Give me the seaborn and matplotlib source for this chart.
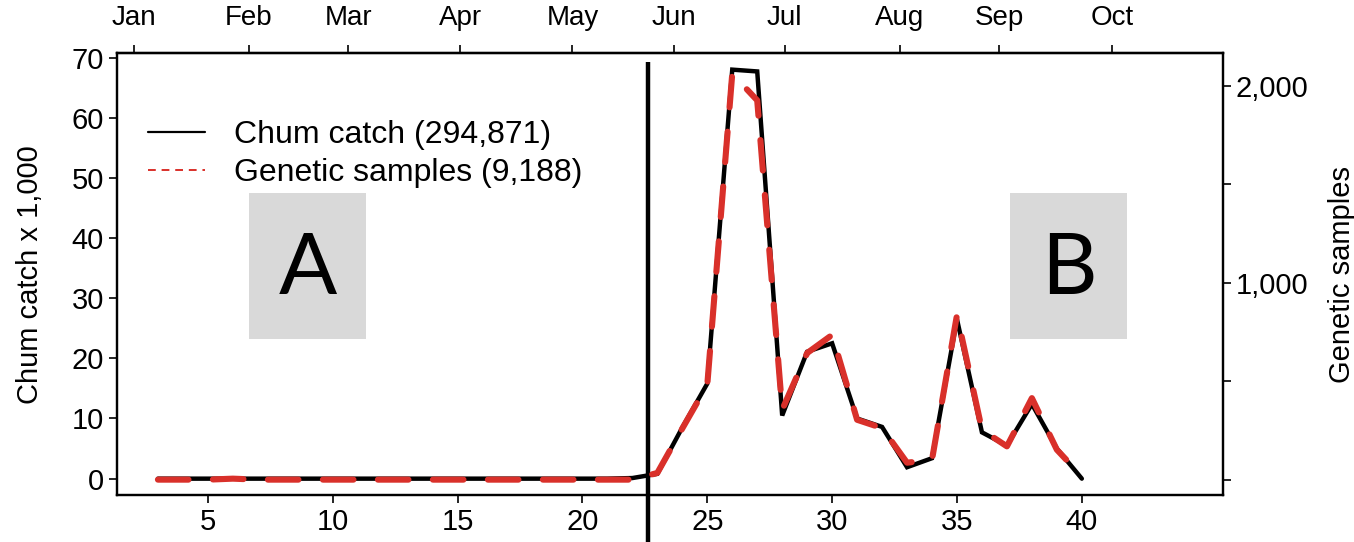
import matplotlib
matplotlib.use("Agg")
import matplotlib.pyplot as plt
from matplotlib.lines import Line2D
from matplotlib.patches import Rectangle
import seaborn as sns

# ------------------------------------------------------------
# Data
# ------------------------------------------------------------
weeks = list(range(3, 41))
chum_catch = [0, 0, 0, 0, 0, 0, 0, 0, 0, 0,
              0, 0, 0, 0, 0, 0, 0, 0, 0, 0.1,
              0.8, 8.5, 15.8, 68.0, 67.7, 10.5, 21.1, 22.5, 10.0, 8.6,
              1.9, 3.4, 26.5, 7.7, 5.5, 12.4, 5.0, 0.0]
genetic = [0, 0, 0, 5, 0, 0, 0, 0, 0, 0,
           0, 0, 0, 0, 0, 0, 0, 0, 0, 0,
           34, 260, 481, 2061, 1926, 355, 643, 735, 304, 262,
           86, 101, 836, 253, 169, 414, 152, 17]

month_labels = ["Jan", "Feb", "Mar", "Apr", "May", "Jun", "Jul", "Aug", "Sep", "Oct"]
month_weeks = [2.05, 6.63, 10.63, 15.1, 19.6, 23.65, 28.1, 32.7, 36.7, 41.2]

split_week = 22.63
legend_labels = ["Chum catch (294,871)", "Genetic samples (9,188)"]

# ------------------------------------------------------------
# Style
# ------------------------------------------------------------
sns.set_style("ticks")
plt.rcParams['font.family'] = ['Liberation Sans', 'DejaVu Sans']
plt.rcParams['text.color'] = 'black'
plt.rcParams['axes.labelcolor'] = 'black'
plt.rcParams['xtick.color'] = 'black'
plt.rcParams['ytick.color'] = 'black'
red = "#d9302a"

fig = plt.figure(figsize=(13.54, 5.42), dpi=100)
ax = fig.add_axes([0.0864, 0.0867, 0.903 - 0.0864, 0.9017 - 0.0867])
ax2 = ax.twinx()

# ------------------------------------------------------------
# Lines
# ------------------------------------------------------------
sns.lineplot(x=weeks, y=chum_catch, ax=ax, color="black", lw=3.2,
             solid_joinstyle="miter")
sns.lineplot(x=weeks, y=genetic, ax=ax2, color=red, lw=4.4,
             linestyle=(0, (5, 4)), dash_capstyle="round")

ax.set_xlim(1.36, 45.64)
ax.set_ylim(-2.72, 70.72)
ax2.set_ylim(-78, 2165)

ax.vlines(split_week, -12, 69.3, color="black", lw=3.2, clip_on=False, zorder=5)

# ------------------------------------------------------------
# Axes / ticks
# ------------------------------------------------------------
ax.set_xticks([5, 10, 15, 20, 25, 30, 35, 40])
ax.set_yticks(range(0, 71, 10))
ax.tick_params(labelsize=21, length=6, width=1.2, direction="out")
ax.set_ylabel("Chum catch x 1,000", fontsize=21, labelpad=20)

ax2.set_yticks([0, 500, 1000, 1500, 2000])
ax2.set_yticklabels(["", "", "1,000", "", "2,000"])
ax2.tick_params(labelsize=21, length=6, width=1.2, direction="out")
ax2.set_ylabel("Genetic samples", fontsize=21, labelpad=14)

top = ax.secondary_xaxis("top")
top.set_xticks(month_weeks)
top.set_xticklabels(month_labels)
top.tick_params(labelsize=20, length=6, width=1.2, direction="out", pad=10)

for a in (ax, ax2):
    for s in a.spines.values():
        s.set_linewidth(1.6)
        s.set_color("black")
for s in top.spines.values():
    s.set_linewidth(1.6)

# ------------------------------------------------------------
# A / B panels
# ------------------------------------------------------------
for (x0, letter) in [(249, "A"), (1010, "B")]:
    fig.patches.append(Rectangle((x0 / 1354, 1 - 339 / 542), 117 / 1354, 146 / 542,
                                 transform=fig.transFigure, facecolor="#d9d9d9",
                                 edgecolor="none", zorder=0))
    fig.text((x0 + 58.5) / 1354, 1 - 270 / 542, letter, fontsize=62,
             family="Lato", ha="center", va="center", color="black")

ax.set_zorder(1)
ax2.set_zorder(2)
ax.patch.set_visible(False)
ax2.patch.set_visible(False)

# ------------------------------------------------------------
# Legend
# ------------------------------------------------------------
handles = [Line2D([], [], color="black", lw=1.6),
           Line2D([], [], color=red, lw=1.4, linestyle=(0, (4, 3)))]
ax.legend(handles, legend_labels, loc="upper left", bbox_to_anchor=(0.008, 0.899),
          frameon=False, fontsize=23, handlelength=1.78, handletextpad=0.9,
          labelspacing=0.25, borderaxespad=0.3)

fig.savefig("out.png", dpi=100)
